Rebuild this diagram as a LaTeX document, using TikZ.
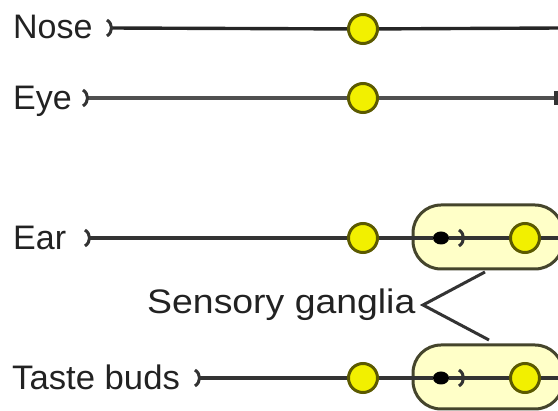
\documentclass[tikz,border=0pt]{standalone}
\usepackage{fontspec}
\setmainfont{Liberation Sans}
\usetikzlibrary{shapes.geometric}
\definecolor{nervecol}{HTML}{333333}
\definecolor{nervelight}{HTML}{505050}
\definecolor{gangfill}{HTML}{F2F000}
\definecolor{gangedge}{HTML}{5C5A00}
\definecolor{clusterfill}{HTML}{FFFFC8}
\definecolor{clusteredge}{HTML}{45452C}
\definecolor{textcol}{HTML}{222222}
\pgfdeclarelayer{clusters}
\pgfdeclarelayer{nerves}
\pgfsetlayers{clusters,nerves,main}
\tikzset{
  nerve/.style={draw=nervecol, line width=3.4pt},
  ganglion/.style={circle, draw=gangedge, fill=gangfill, line width=3pt,
    minimum size=29pt, inner sep=0pt},
  soma/.style={ellipse, fill=black, minimum width=16pt, minimum height=13pt, inner sep=0pt},
  cluster/.style={draw=clusteredge, fill=clusterfill, line width=3pt,
    rounded corners=28pt, minimum width=150pt, minimum height=64pt, inner sep=0pt},
  organ/.style={font=\fontsize{34}{34}\selectfont, text=textcol, inner sep=0pt,
    anchor=base west},
  pointer/.style={draw=nervecol, line width=3pt},
  term/.pic={\draw[nervecol, line width=3pt] (-3,-8) .. controls (3,-4) and (3,4) .. (-3,8);}
}
\begin{document}
\begin{tikzpicture}[x=1pt,y=-1pt]
\useasboundingbox (0,0) rectangle (558,411);
\clip (0,0) rectangle (558,411);

% organ labels
\node[organ] (nose)  at (13,39)  {Nose};
\node[organ] (eye)   at (13,110) {Eye};
\node[organ] (ear)   at (13,250) {Ear};
\node[organ, xscale=1.02, transform shape] (taste) at (12,390) {Taste buds};
\node[organ, xscale=1.1, transform shape] (sens) at (147,314) {Sensory ganglia};

% nerve start points (terminal marks)
\coordinate (noseT)  at (110,28);
\coordinate (eyeT)   at (86,98);
\coordinate (earT)   at (88,238);
\coordinate (tasteT) at (198,378);
\coordinate (noseE)  at (560,28);
\coordinate (eyeE)   at (556,98);
\coordinate (earE)   at (560,238);
\coordinate (tasteE) at (560,378);

% ganglia
\node[ganglion] (noseG)  at (363,29)  {};
\node[ganglion] (eyeG)   at (363,98)  {};
\node[ganglion] (earG)   at (363,238) {};
\node[ganglion] (tasteG) at (363,378) {};

% sensory ganglion clusters
\begin{pgfonlayer}{clusters}
\node[cluster] (earC)   at (488,237) {};
\node[cluster] (tasteC) at (488,377) {};
\end{pgfonlayer}
\node[soma] (earS)   at (441,238) {};
\node[soma] (tasteS) at (441,378) {};
\coordinate (earJ)   at (462,238);
\coordinate (tasteJ) at (462,378);
\node[ganglion] (earG2)   at (525,238) {};
\node[ganglion] (tasteG2) at (525,378) {};

% nerves
\begin{pgfonlayer}{nerves}
\draw[nerve, draw=black!85] (noseT) -- (noseG) -- (noseE);
\draw[nerve, draw=nervelight] (eyeT) -- (eyeG) -- (eyeE);
\draw[nerve] (earT) -- (earG) -- (earS) -- (earG2) -- (earE);
\draw[nerve] (tasteT) -- (tasteG) -- (tasteS) -- (tasteG2) -- (tasteE);
\end{pgfonlayer}

% terminal marks
\pic at (noseT) {term};
\pic at (eyeT) {term};
\pic at (earT) {term};
\pic at (tasteT) {term};
\pic at (earJ) {term};
\pic at (tasteJ) {term};
\draw[nervecol, line width=4pt] (556,91) -- (556,105);

% pointer from the label to both clusters
\coordinate (apex) at (423,305);
\coordinate (upEnd) at (485,272);
\coordinate (lowEnd) at (489,340);
\draw[pointer] (upEnd) -- (apex) -- (lowEnd);
\end{tikzpicture}
\end{document}
